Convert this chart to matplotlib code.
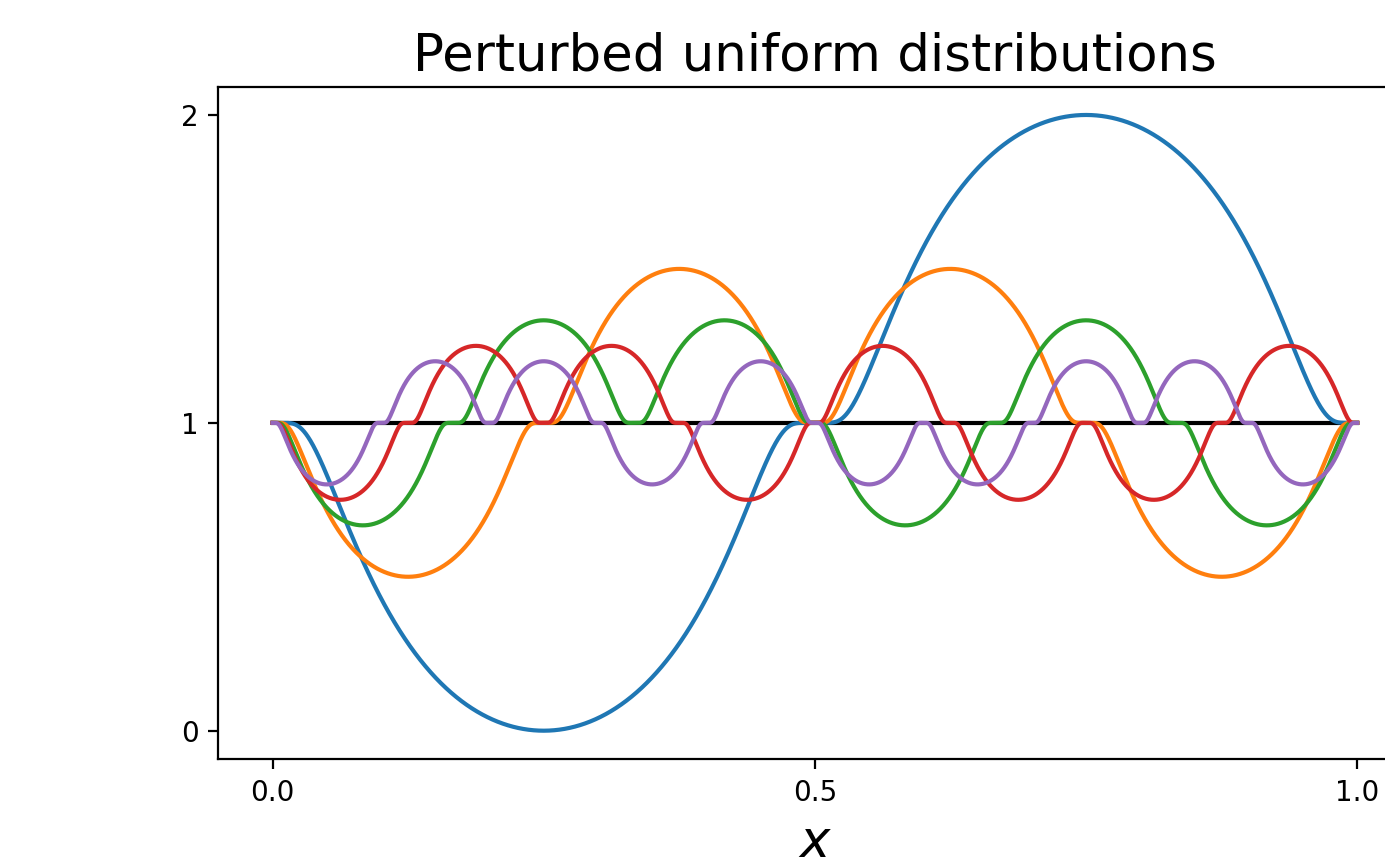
import numpy as np
import matplotlib
matplotlib.use("Agg")
import matplotlib.pyplot as plt

# Sign of each lobe (read left to right) for each perturbed curve
signs_1 = [-1, +1]
signs_2 = [-1, +1, +1, -1]
signs_3 = [-1, +1, +1, -1, +1, -1]
signs_4 = [-1, +1, +1, -1, +1, -1, -1, +1]
signs_5 = [-1, +1, +1, -1, +1, -1, -1, +1, +1, -1]
all_signs = [signs_1, signs_2, signs_3, signs_4, signs_5]

# Peak deviation from the uniform level (read from the extrema)
amplitudes = [1.0, 0.5, 0.333, 0.25, 0.2]
baseline = 1.0

x_ticks = [0.0, 0.5, 1.0]
x_tick_labels = ["0.0", "0.5", "1.0"]
y_ticks = [0, 1, 2]
y_tick_labels = ["0", "1", "2"]
colors = ["#1f77b4", "#ff7f0e", "#2ca02c", "#d62728", "#9467bd"]


def bump(u):
    out = np.zeros_like(u)
    m = np.abs(u) < 1
    out[m] = np.exp(1.0 - 1.0 / (1.0 - u[m] ** 2))
    return out


def curve(x, signs, amp):
    n = len(signs)
    y = np.full_like(x, baseline)
    for j, s in enumerate(signs):
        c = (j + 0.5) / n
        u = (x - c) * 2 * n
        y += s * amp * bump(u)
    return y


x = np.linspace(0, 1, 4001)

fig = plt.figure(figsize=(1385 / 200, 858 / 200), dpi=200)
ax = fig.add_axes([0.1576, 0.1150, 0.8615, 0.7833])

ax.plot([0, 1], [baseline, baseline], color="black", lw=1.5)
for signs, amp, col in zip(all_signs, amplitudes, colors):
    ax.plot(x, curve(x, signs, amp), color=col, lw=1.5)

ax.set_xlim(-0.05, 1.05)
ax.set_ylim(-0.093, 2.09)
ax.set_xticks(x_ticks)
ax.set_xticklabels(x_tick_labels)
ax.set_yticks(y_ticks)
ax.set_yticklabels(y_tick_labels)
ax.set_title("Perturbed uniform distributions", fontsize=18.5)
ax.set_xlabel("$x$", fontsize=18.5)

fig.savefig("out.png", dpi=200)
